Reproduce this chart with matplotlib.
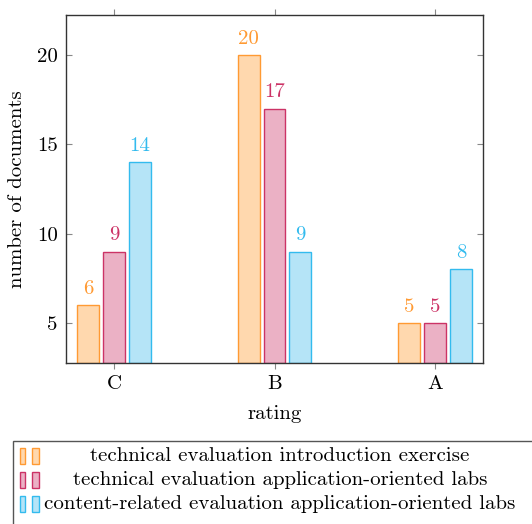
import numpy as np
import matplotlib
matplotlib.use("Agg")
import matplotlib.pyplot as plt
from matplotlib.patches import Rectangle

plt.rcParams['font.family'] = ['cmr10', 'DejaVu Serif']
plt.rcParams['mathtext.fontset'] = 'cm'
plt.rcParams['axes.formatter.use_mathtext'] = True

# data
ratings = ['C', 'B', 'A']
series_names = [
    'technical evaluation introduction exercise',
    'technical evaluation application-oriented labs',
    'content-related evaluation application-oriented labs',
]
intro_exercise = [6, 20, 5]
tech_labs = [9, 17, 5]
content_labs = [14, 9, 8]
yticks = [5, 10, 15, 20]

edge_colors = ['#FF9A33', '#CC3366', '#33BBEE']
fill_colors = ['#FFD8AE', '#EBB1C5', '#B5E4F7']
fs = 15

fig = plt.figure(figsize=(5.32, 5.24), dpi=100)
ax = fig.add_axes([66 / 532, 1 - 363 / 524, (483 - 66) / 532, (363 - 15) / 524])

ymin, ymax = 2.77, 22.23
x = np.arange(len(ratings))
offsets = [-0.162, 0.0, 0.162]
width = 0.137

for vals, off, ec, fc in zip([intro_exercise, tech_labs, content_labs], offsets, edge_colors, fill_colors):
    heights = np.array(vals) - ymin
    ax.bar(x + off, heights, width, bottom=ymin, color=fc, edgecolor=ec, linewidth=1.0, zorder=2)
    for xi, v in zip(x + off, vals):
        ax.text(xi, v + 0.4, str(v), ha='center', va='bottom', color=ec, fontsize=fs)

ax.set_xlim(-0.3, 2.3)
ax.set_ylim(ymin, ymax)
ax.set_xticks(x)
ax.set_xticklabels(ratings, fontsize=fs)
ax.set_yticks(yticks)
ax.set_yticklabels([str(t) for t in yticks], fontsize=fs)
ax.tick_params(axis='x', direction='out', top=True, length=4, color='#888888', width=0.8, pad=5)
ax.tick_params(axis='y', direction='in', right=True, length=4, color='#888888', width=0.8, pad=6)
for s in ax.spines.values():
    s.set_color('#333333')
    s.set_linewidth(1.0)

ax.set_xlabel('rating', fontsize=fs, labelpad=8)
ax.set_ylabel('number of documents', fontsize=fs, labelpad=8)

# legend box drawn by hand (centered entries, extends past right edge)
fig.patches.append(Rectangle((13 / 532, 1 - 560 / 524), 560 / 532, 119 / 524,
                             transform=fig.transFigure, facecolor='white',
                             edgecolor='#555555', linewidth=1.0))
line_y = [456, 480, 504]
for name, yy, ec, fc in zip(series_names, line_y, edge_colors, fill_colors):
    for x0, w in [(20, 5), (32, 7)]:
        fig.patches.append(Rectangle((x0 / 532, 1 - (yy + 8) / 524), w / 532, 16 / 524,
                                     transform=fig.transFigure, facecolor=fc,
                                     edgecolor=ec, linewidth=1.0))
    fig.text(280 / 532, 1 - yy / 524, name, ha='center', va='center', fontsize=fs)

fig.savefig('out.png', dpi=100)
